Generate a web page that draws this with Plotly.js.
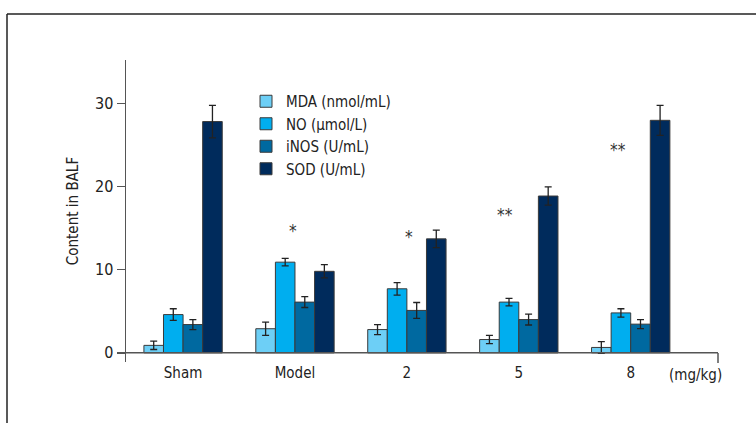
<!DOCTYPE html>
<html><head><meta charset="utf-8">
<script src="https://cdn.plot.ly/plotly-3.0.1.min.js"></script>
<style>html,body{margin:0;padding:0;background:#fff}#chart{width:756px;height:423px}
#chart text{font-stretch:condensed}</style>
</head><body><div id="chart"></div>
<script>
const categories = ["Sham", "Model", "2", "5", "8"];
const seriesNames = ["MDA (nmol/mL)", "NO (µmol/L)", "iNOS (U/mL)", "SOD (U/mL)"];
const mdaValues = [0.9, 2.9, 2.8, 1.6, 0.65];
const mdaErrors = [0.5, 0.8, 0.6, 0.5, 0.7];
const noValues = [4.6, 10.9, 7.7, 6.1, 4.8];
const noErrors = [0.7, 0.45, 0.75, 0.45, 0.5];
const inosValues = [3.4, 6.1, 5.1, 4.0, 3.45];
const inosErrors = [0.6, 0.65, 0.95, 0.65, 0.55];
const sodValues = [27.8, 9.8, 13.7, 18.85, 27.95];
const sodErrors = [1.95, 0.8, 1.05, 1.1, 1.8];
const starCats = ["Model", "2", "5", "8"];
const starTexts = ["*", "*", "**", "**"];
const starY = [14.6, 13.9, 16.6, 24.4];
const starShift = [-2, 2, -14, -13];
const unitLabel = "(mg/kg)";
const yTitle = "Content in BALF";

const colors = ["#6dcff6", "#00aeef", "#0069a0", "#002b5c"];
const vals = [mdaValues, noValues, inosValues, sodValues];
const errs = [mdaErrors, noErrors, inosErrors, sodErrors];
const font = "'DejaVu Sans Condensed', 'Liberation Sans Narrow', 'DejaVu Sans', sans-serif";

const traces = seriesNames.map((n, i) => ({
  type: "bar", name: n, x: categories, y: vals[i],
  marker: {color: colors[i], line: {color: "#3a3a3a", width: 1}},
  error_y: {type: "data", array: errs[i], visible: true, color: "#222", thickness: 1.3, width: 3.5}
}));

const px = X => (X - 126) / 592;
const py = Y => (362 - Y) / 302;

const annotations = starCats.map((c, i) => ({
  x: categories.indexOf(c), y: starY[i], xref: "x", yref: "y", text: starTexts[i], showarrow: false,
  xshift: starShift[i], xanchor: "center", yanchor: "middle",
  font: {family: font, size: 17, color: "#333"}
}));
annotations.push({x: px(695), y: py(375), xref: "paper", yref: "paper", text: unitLabel,
  xanchor: "center", yanchor: "middle",
  showarrow: false, font: {family: font, size: 15, color: "#222"}});

const shapes = [
  {type: "line", xref: "paper", yref: "paper", x0: px(7), x1: px(760), y0: py(14), y1: py(14), line: {color: "#222", width: 1.5}},
  {type: "line", xref: "paper", yref: "paper", x0: px(7), x1: px(7), y0: py(14), y1: py(430), line: {color: "#222", width: 1.5}},
  {type: "line", xref: "paper", yref: "y", x0: 0, x1: 1, y0: 0, y1: 0, line: {color: "#555", width: 1.5}},
  {type: "line", xref: "paper", yref: "paper", x0: 1, x1: 1, y0: py(353), y1: py(363), line: {color: "#555", width: 1.5}}
];

const layout = {
  width: 756, height: 423,
  margin: {l: 126, r: 38, t: 60, b: 61},
  paper_bgcolor: "#fff", plot_bgcolor: "#fff",
  barmode: "group", bargap: 0.3, bargroupgap: 0,
  showlegend: true,
  legend: {x: px(246), y: py(85), xanchor: "left", yanchor: "top", bgcolor: "rgba(0,0,0,0)",
    font: {family: font, size: 15, color: "#222"}, traceorder: "normal"},
  xaxis: {type: "category", range: [-0.51, 4.78], showline: false, showgrid: false, zeroline: false,
    ticks: "", tickfont: {family: font, size: 15, color: "#222"}, fixedrange: true},
  yaxis: {range: [-1.1, 35.2], showline: true, linecolor: "#555", linewidth: 1.5, showgrid: false, zeroline: false,
    ticks: "outside", ticklen: 8, tickcolor: "#555", tickwidth: 1.5, tickvals: [0, 10, 20, 30],
    tickfont: {family: font, size: 16, color: "#222"},
    title: {text: yTitle, font: {family: font, size: 15, color: "#222"}, standoff: 12}},
  annotations: annotations, shapes: shapes
};
Plotly.newPlot("chart", traces, layout, {displayModeBar: false, staticPlot: true});
</script></body></html>
